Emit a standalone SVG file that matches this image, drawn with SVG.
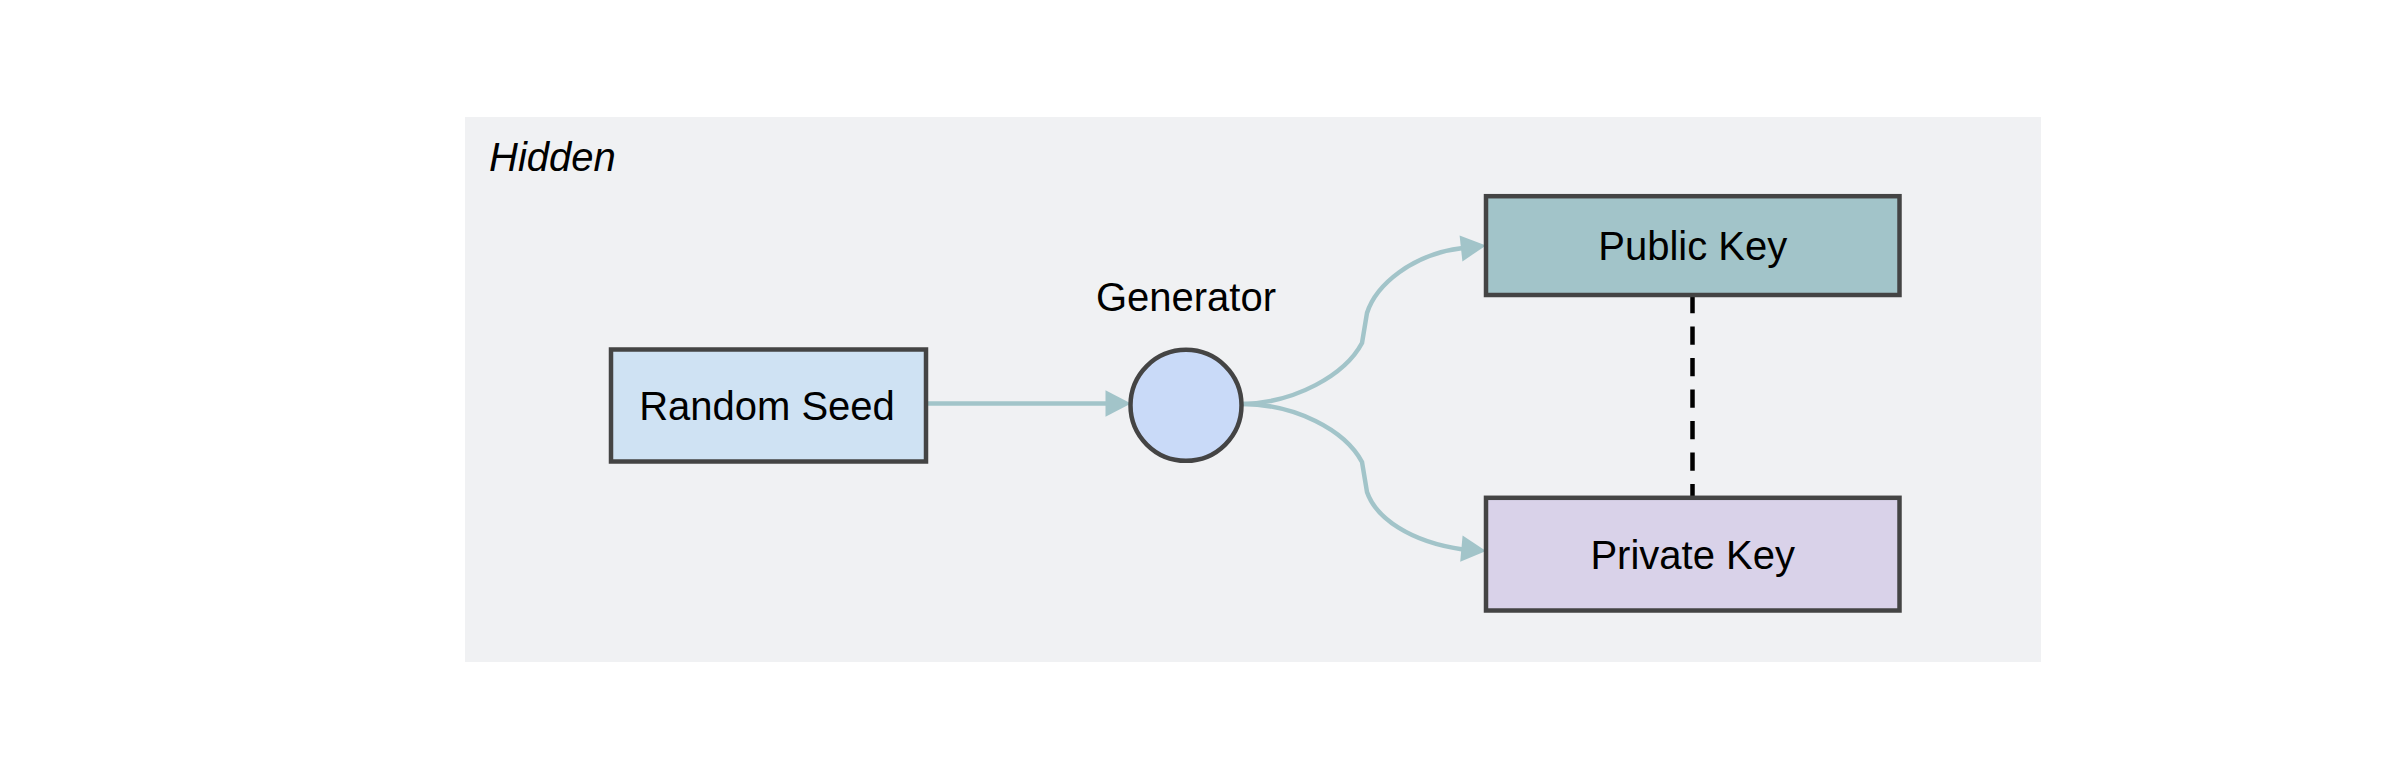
<svg xmlns="http://www.w3.org/2000/svg" width="2390" height="780" viewBox="0 0 2390 780">
<style>
  .node { stroke: #444444; stroke-width: 4.5; }
  .lbl { font-family: "Liberation Sans", Arial, sans-serif; font-size: 40px; fill: #000000; text-anchor: middle; }
  .edge { fill: none; stroke: #a2c4c9; stroke-width: 4.5; }
  .head { fill: #a2c4c9; stroke: none; }
</style>
<rect x="0" y="0" width="2390" height="780" fill="#ffffff"/>
<g id="cluster-hidden">
  <rect x="465" y="117" width="1576" height="545" fill="#f0f1f3"/>
  <text x="489" y="171" font-family="'Liberation Sans', Arial, sans-serif" font-size="40" font-style="italic" fill="#000000">Hidden</text>
</g>
<g id="connectors">
  <line class="edge" x1="926" y1="403.5" x2="1107" y2="403.5"/>
  <polygon class="head" points="1131,403.5 1105.5,390.2 1105.5,416.8"/>
  <path class="edge" d="M1242,404 C1295,403 1345,375 1362,343 L1367,313 C1376,285 1412,254 1463,248"/>
  <polygon class="head" points="1486,245.5 1462.4,261.4 1459.6,235.6"/>
  <path class="edge" d="M1242,404 C1295,404 1345,430 1362,462 L1367,492 C1376,518 1410,542 1463,549.5"/>
  <polygon class="head" points="1486,551 1460.2,561.8 1462.6,535.6"/>
  <line x1="1692.5" y1="295" x2="1692.5" y2="497.8" stroke="#000000" stroke-width="4.5" stroke-dasharray="18.3 13.2"/>
</g>
<g id="node-random-seed">
  <rect class="node" x="611" y="349.5" width="315" height="112" fill="#cfe2f3"/>
  <text class="lbl" x="767" y="419.7">Random Seed</text>
</g>
<g id="node-generator">
  <circle class="node" cx="1186" cy="405.3" r="55.5" fill="#c9daf8"/>
  <text class="lbl" x="1186" y="311">Generator</text>
</g>
<g id="node-public-key">
  <rect class="node" x="1486" y="196.2" width="413.5" height="98.8" fill="#a2c4c9"/>
  <text class="lbl" x="1692.7" y="259.9">Public Key</text>
</g>
<g id="node-private-key">
  <rect class="node" x="1486" y="497.8" width="413.5" height="112.7" fill="#d9d2e9"/>
  <text class="lbl" x="1692.7" y="568.5">Private Key</text>
</g>
</svg>
